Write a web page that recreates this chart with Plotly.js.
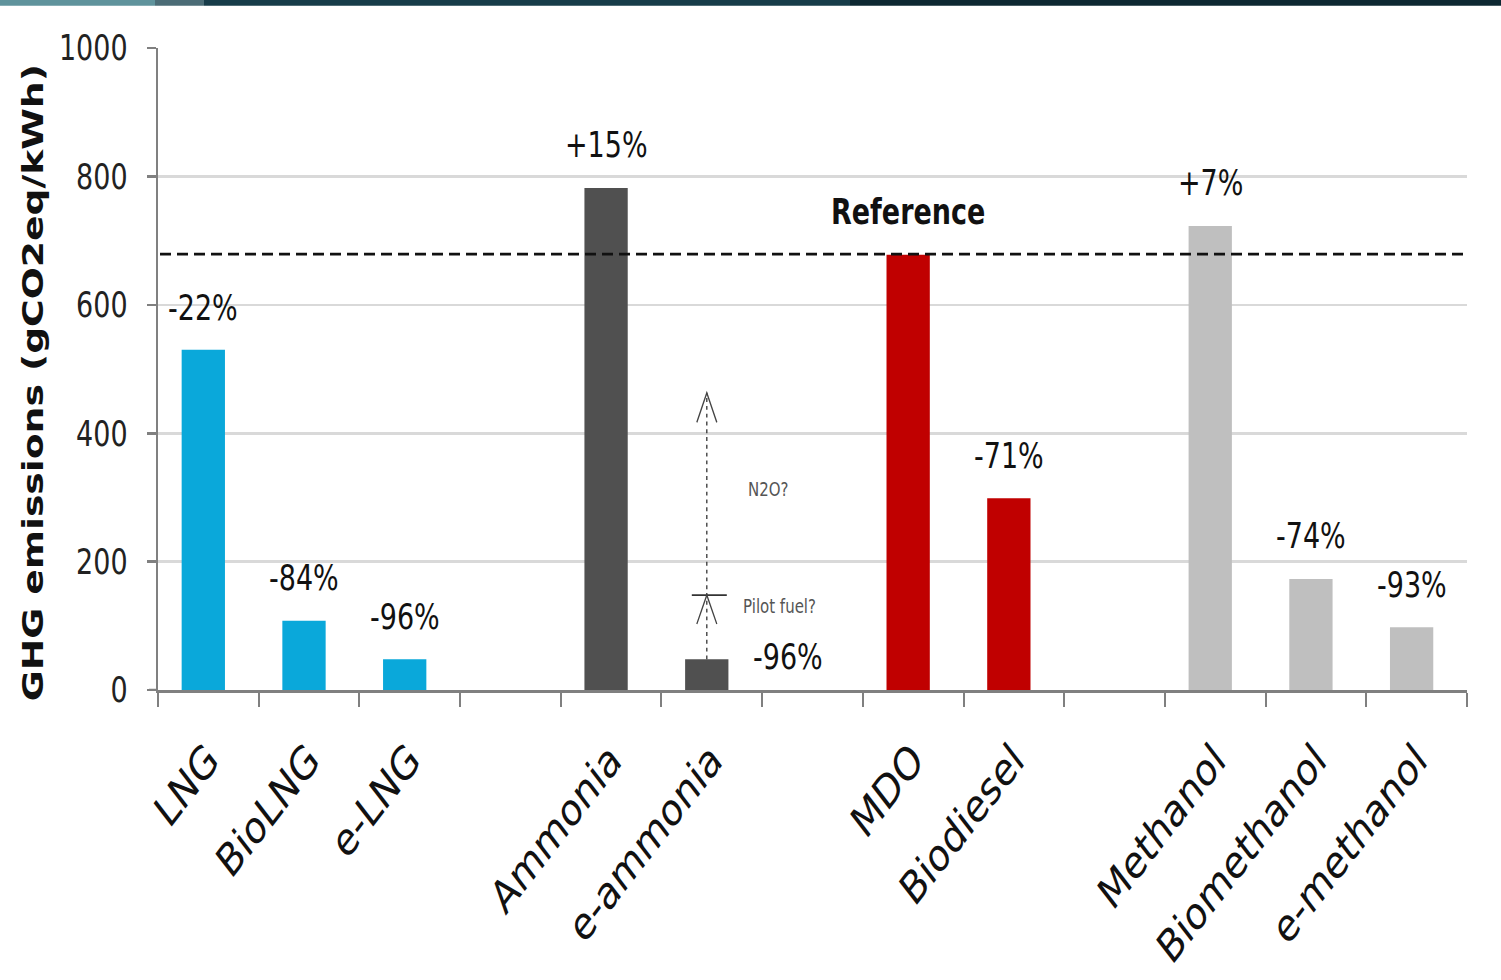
<!DOCTYPE html>
<html><head><meta charset="utf-8">
<script src="https://cdn.plot.ly/plotly-3.0.1.min.js"></script>
<style>
html,body{margin:0;padding:0;background:#fff;overflow:hidden;}
#wrap{width:1501px;height:980px;overflow:hidden;}
#chart{width:1501px;height:754px;transform:scaleY(1.2997);transform-origin:0 0;}
</style></head><body>
<div id="wrap"><div id="chart"></div></div>
<script>
// ---- data ----
const categories = ["LNG","BioLNG","e-LNG"," ","Ammonia","e-ammonia","  ","MDO","Biodiesel","   ","Methanol","Biomethanol","e-methanol"];
const emissions = [530,108,48,null,782,48,null,678,299,null,723,173,98];
const changeLabels = ["-22%","-84%","-96%","","+15%","-96%","","","-71%","","+7%","-74%","-93%"];
const barColors = ["#0AA8DA","#0AA8DA","#0AA8DA","#ffffff","#505050","#505050","#ffffff","#C00000","#C00000","#ffffff","#BFBFBF","#BFBFBF","#BFBFBF"];
const referenceValue = 679;
const referenceLabel = "Reference";
const yTickVals = [0,200,400,600,800,1000];
const yTitle = "GHG emissions (gCO2eq/kWh)";
const pilotFuelLevel = 148;
const n2oLevel = 463;
const n2oText = "N2O?";
const pilotText = "Pilot fuel?";
const n2oTextLevel = 311;
const pilotTextLevel = 129;

// ---- layout geometry (unscaled) ----
const W = 1501, H = 754, mL = 158, mR = 34, mT = 37, mB = 223;
const plotH = H - mT - mB, plotW = W - mL - mR;
const py = p => (H - mB - p) / plotH;
const px = p => (p - mL) / plotW;

const FONT = "DejaVu Sans, Verdana, sans-serif";
const eAmmIdx = categories.indexOf("e-ammonia");
const mdoIdx = categories.indexOf("MDO");
const BAR_W = 0.43, BAR_OFF = -0.265;
const barShift = Math.round((BAR_OFF + BAR_W / 2) * plotW / categories.length);

const annotations = [];
changeLabels.forEach((t, i) => {
  if (!t) return;
  const side = (i === eAmmIdx);
  annotations.push({
    x: i, y: emissions[i], xref: 'x', yref: 'y', text: t, showarrow: false,
    xanchor: 'center', yanchor: 'middle',
    xshift: side ? 76 : barShift, yshift: side ? 2 : 33,
    font: {family: FONT, size: 27, color: '#111'}
  });
});
annotations.push({x: mdoIdx, y: referenceValue, xref: 'x', yref: 'y', text: '<b>' + referenceLabel + '</b>',
  showarrow: false, xanchor: 'center', yanchor: 'middle', yshift: 33, xshift: barShift,
  font: {family: FONT, size: 27, color: '#111'}});
annotations.push({x: eAmmIdx, y: n2oTextLevel, xref: 'x', yref: 'y', text: n2oText, showarrow: false,
  xanchor: 'left', yanchor: 'middle', xshift: 34, font: {family: FONT, size: 15, color: '#555'}});
annotations.push({x: eAmmIdx, y: pilotTextLevel, xref: 'x', yref: 'y', text: pilotText, showarrow: false,
  xanchor: 'left', yanchor: 'middle', xshift: 29, font: {family: FONT, size: 15, color: '#555'}});
// y-axis title (slightly below plot centre, as in the reference)
annotations.push({x: px(33), y: py(383 / 1.2997), xref: 'paper', yref: 'paper', text: '<b>' + yTitle + '</b>',
  showarrow: false, textangle: -90, xanchor: 'center', yanchor: 'middle',
  font: {family: FONT, size: 29, color: '#111'}});

const shapes = [
  // top banner
  {type: 'rect', xref: 'paper', yref: 'paper', x0: px(0), x1: px(155), y0: py(4.4), y1: py(0), line: {width: 0}, fillcolor: '#5f939c', layer: 'above'},
  {type: 'rect', xref: 'paper', yref: 'paper', x0: px(155), x1: px(204), y0: py(4.4), y1: py(0), line: {width: 0}, fillcolor: '#4b6c76', layer: 'above'},
  {type: 'rect', xref: 'paper', yref: 'paper', x0: px(204), x1: px(850), y0: py(4.4), y1: py(0), line: {width: 0}, fillcolor: '#173c49', layer: 'above'},
  {type: 'rect', xref: 'paper', yref: 'paper', x0: px(850), x1: px(1501), y0: py(4.4), y1: py(0), line: {width: 0}, fillcolor: '#0d2832', layer: 'above'},
  // axis stub left of the y axis at zero
  {type: 'line', xref: 'paper', yref: 'y', x0: px(149), x1: 0, y0: 0, y1: 0, line: {color: '#808080', width: 2}},
  // reference dashed line
  {type: 'line', xref: 'x', yref: 'y', x0: -0.48, x1: categories.length - 0.5, y0: referenceValue, y1: referenceValue,
   line: {color: '#111', width: 2.2, dash: '11px,6px'}, layer: 'above'},
  // e-ammonia dotted arrow
  {type: 'line', xref: 'x', yref: 'y', xsizemode: 'pixel', xanchor: eAmmIdx, x0: barShift, x1: barShift, y0: emissions[eAmmIdx], y1: n2oLevel,
   line: {color: '#333', width: 1.3, dash: 'dot'}},
  {type: 'line', xref: 'x', yref: 'y', xsizemode: 'pixel', xanchor: eAmmIdx, x0: barShift - 15, x1: barShift + 20, y0: pilotFuelLevel, y1: pilotFuelLevel,
   line: {color: '#333', width: 1.5}},
  {type: 'path', xref: 'x', yref: 'y', xsizemode: 'pixel', xanchor: eAmmIdx,
   path: 'M' + (barShift - 10) + ',' + (pilotFuelLevel - 45) + ' L' + barShift + ',' + pilotFuelLevel + ' L' + (barShift + 10) + ',' + (pilotFuelLevel - 45),
   line: {color: '#444', width: 1.3}},
  {type: 'path', xref: 'x', yref: 'y', xsizemode: 'pixel', xanchor: eAmmIdx,
   path: 'M' + (barShift - 10) + ',' + (n2oLevel - 46) + ' L' + barShift + ',' + n2oLevel + ' L' + (barShift + 10) + ',' + (n2oLevel - 46),
   line: {color: '#444', width: 1.3}}
];

const trace = {
  type: 'bar', x: categories, y: emissions, width: BAR_W, offset: BAR_OFF,
  marker: {color: barColors, line: {width: 0}},
  hoverinfo: 'x+y'
};

const layout = {
  width: W, height: H,
  margin: {l: mL, r: mR, t: mT, b: mB, pad: 0},
  paper_bgcolor: '#fff', plot_bgcolor: '#fff',
  showlegend: false,
  font: {family: FONT, color: '#111'},
  xaxis: {
    type: 'category', range: [-0.5, categories.length - 0.5], tickson: 'boundaries',
    ticks: 'outside', ticklen: 11, tickwidth: 2, tickcolor: '#808080',
    showline: true, linecolor: '#808080', linewidth: 2, showgrid: false, zeroline: false,
    tickangle: -45, tickfont: {family: FONT, size: 35, color: '#111'}, ticklabelstandoff: 17
  },
  yaxis: {
    range: [0, 1000], tickvals: yTickVals, ticktext: yTickVals.map(String),
    ticks: 'outside', ticklen: 9, tickwidth: 2, tickcolor: '#808080',
    showline: true, linecolor: '#808080', linewidth: 2,
    showgrid: true, gridcolor: '#d9d9d9', gridwidth: 2, zeroline: false,
    tickfont: {family: FONT, size: 27, color: '#222'}, ticklabelstandoff: 14
  },
  annotations: annotations,
  shapes: shapes
};

Plotly.newPlot('chart', [trace], layout, {displayModeBar: false, staticPlot: true});
</script>
</body></html>
